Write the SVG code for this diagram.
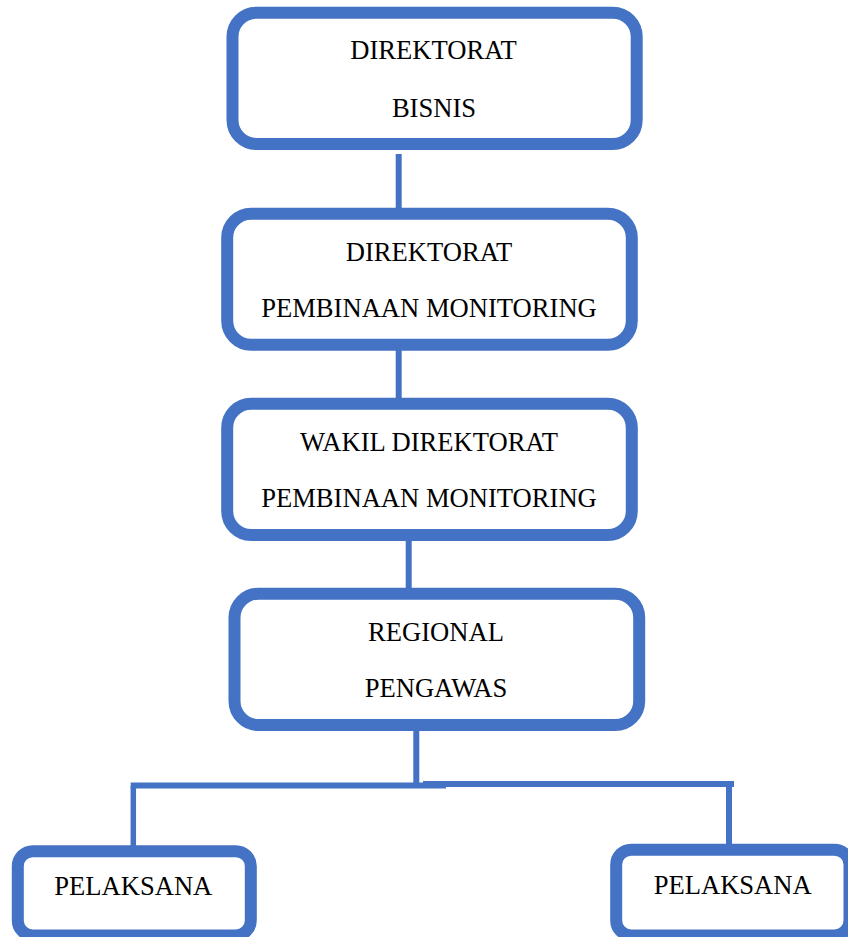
<svg xmlns="http://www.w3.org/2000/svg" width="848" height="937" viewBox="0 0 848 937">
<style>
.box{fill:#ffffff;stroke:#4472C4;stroke-width:12}
.lbl{font-family:"Liberation Serif","Times New Roman",serif;font-size:26.6px;fill:#000000;text-anchor:middle}
.con{stroke:#4472C4;stroke-width:6;fill:none}
</style>
<rect width="848" height="937" fill="#ffffff"/>
<g id="connectors">
<line class="con" x1="398.7" y1="154" x2="398.7" y2="208"/>
<line class="con" x1="398.7" y1="350" x2="398.7" y2="398"/>
<line class="con" x1="408.7" y1="540" x2="408.7" y2="589"/>
<line class="con" x1="416.3" y1="730" x2="416.3" y2="783"/>
<line class="con" x1="130.7" y1="785.5" x2="446" y2="785.5"/>
<line class="con" x1="423" y1="784" x2="734" y2="784"/>
<line class="con" x1="133.3" y1="786" x2="133.3" y2="846" style="stroke-width:5.5"/>
<line class="con" x1="729" y1="785" x2="729" y2="844"/>
</g>
<g id="n1">
<rect class="box" x="232.5" y="12.7" width="404.2" height="131.3" rx="24"/>
<text class="lbl" x="433.5" y="59.3">DIREKTORAT</text>
<text class="lbl" x="434" y="116.7">BISNIS</text>
</g>
<g id="n2">
<rect class="box" x="227.2" y="213.7" width="404.6" height="131" rx="24"/>
<text class="lbl" x="429" y="260.7">DIREKTORAT</text>
<text class="lbl" x="429" y="317.3">PEMBINAAN MONITORING</text>
</g>
<g id="n3">
<rect class="box" x="227.2" y="403.7" width="404.6" height="131.3" rx="24"/>
<text class="lbl" x="429" y="450.7">WAKIL DIREKTORAT</text>
<text class="lbl" x="429" y="507.3">PEMBINAAN MONITORING</text>
</g>
<g id="n4">
<rect class="box" x="234.5" y="593.7" width="404.7" height="131.3" rx="24"/>
<text class="lbl" x="436" y="640.7">REGIONAL</text>
<text class="lbl" x="436" y="697.3">PENGAWAS</text>
</g>
<g id="n5">
<rect class="box" x="17.8" y="851.2" width="233" height="84.3" rx="15"/>
<text class="lbl" x="133.3" y="895">PELAKSANA</text>
</g>
<g id="n6">
<rect class="box" x="616.2" y="849.7" width="233.3" height="85.8" rx="15"/>
<text class="lbl" x="732.7" y="894.3">PELAKSANA</text>
</g>
</svg>
